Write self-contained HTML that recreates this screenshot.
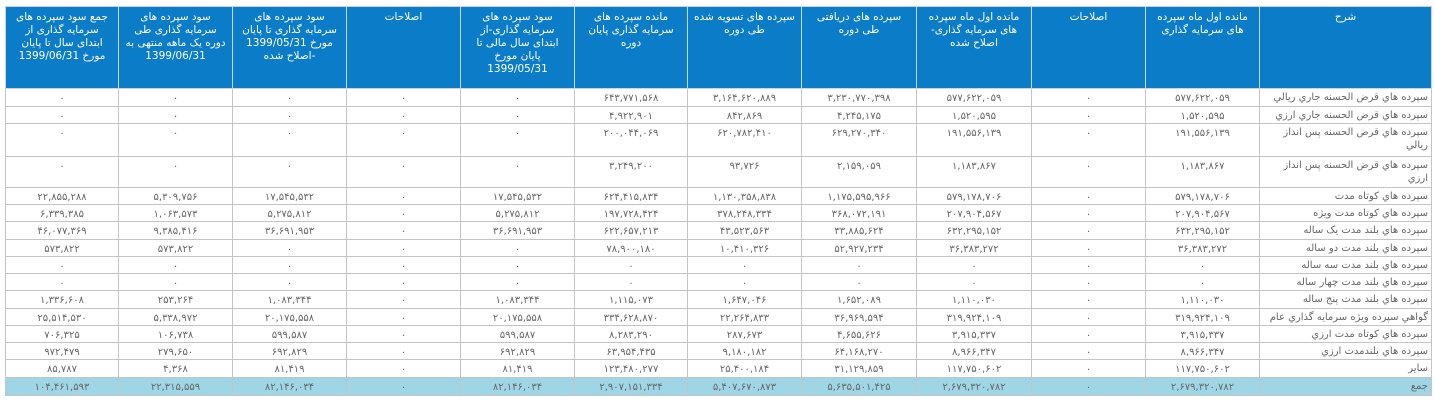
<!DOCTYPE html>
<html><head><meta charset="utf-8">
<style>
html,body{margin:0;padding:0;background:#fff;width:1434px;height:405px;overflow:hidden}
table{position:absolute;left:5px;top:6px;width:1425px;border-collapse:collapse;table-layout:fixed;direction:rtl;font-family:"DejaVu Sans","Liberation Sans",sans-serif;font-size:10px;color:#666}
th{background:#0b7dc8;color:#fff;font-weight:normal;vertical-align:top;text-align:center;border:1px solid #c9d6e0;padding:4px 6px 0;line-height:13px;height:77px;font-size:10.5px}
td{border:1px solid #c4c4c4;padding:0 3px;text-align:center;line-height:13px;white-space:nowrap}
td.d{text-align:right;white-space:normal;vertical-align:top;padding-top:2px}
td.n{vertical-align:top;padding-top:3px}
tr.tot td{background:#9fd6e6}
</style></head><body>
<table>
<colgroup><col style="width:172px"><col style="width:114px"><col style="width:114px"><col style="width:115px"><col style="width:115px"><col style="width:114px"><col style="width:113px"><col style="width:114px"><col style="width:114px"><col style="width:114px"><col style="width:114px"><col style="width:113px"></colgroup>
<thead><tr>
<th>شرح</th>
<th>مانده اول ماه سپرده های سرمایه گذاری</th>
<th>اصلاحات</th>
<th>مانده اول ماه سپرده های سرمایه گذاری-اصلاح شده</th>
<th>سپرده های دریافتی طی دوره</th>
<th>سپرده های تسویه شده طی دوره</th>
<th>مانده سپرده های سرمایه گذاری پایان دوره</th>
<th>سود سپرده های سرمایه گذاری-از ابتدای سال مالی تا پایان مورخ 1399/05/31</th>
<th>اصلاحات</th>
<th>سود سپرده های سرمایه گذاری تا پایان مورخ 1399/05/31 -اصلاح شده</th>
<th>سود سپرده های سرمایه گذاری طی دوره یک ماهه منتهی به 1399/06/31</th>
<th>جمع سود سپرده های سرمایه گذاری از ابتدای سال تا پایان مورخ 1399/06/31</th>
</tr></thead>
<tbody id="tb"></tbody>
</table>
<script>
const labels=["سپرده هاي قرض الحسنه جاري ريالي","سپرده هاي قرض الحسنه جاري ارزي","سپرده هاي قرض الحسنه پس انداز ريالي","سپرده هاي قرض الحسنه پس انداز ارزي","سپرده هاي كوتاه مدت","سپرده هاي كوتاه مدت ويژه","سپرده هاي بلند مدت يک ساله","سپرده هاي بلند مدت دو ساله","سپرده هاي بلند مدت سه ساله","سپرده هاي بلند مدت چهار ساله","سپرده هاي بلند مدت پنج ساله","گواهي سپرده ويژه سرمايه گذاري عام","سپرده هاي كوتاه مدت ارزي","سپرده هاي بلندمدت ارزي","ساير","جمع"];
const values=[
["577,622,059","0","577,622,059","3,230,770,398","3,164,620,889","643,771,568","0","0","0","0","0"],
["1,520,595","0","1,520,595","4,245,175","842,869","4,922,901","0","0","0","0","0"],
["191,556,139","0","191,556,139","629,270,340","620,782,410","200,044,069","0","0","0","0","0"],
["1,183,867","0","1,183,867","2,159,059","93,726","3,249,200","0","0","0","0","0"],
["579,178,706","0","579,178,706","1,175,595,966","1,130,358,838","624,415,834","17,545,532","0","17,545,532","5,309,756","22,855,288"],
["207,904,567","0","207,904,567","368,072,191","378,248,334","197,728,424","5,275,812","0","5,275,812","1,063,573","6,339,385"],
["632,295,152","0","632,295,152","33,885,624","43,523,563","622,657,213","36,691,953","0","36,691,953","9,385,416","46,077,369"],
["36,383,272","0","36,383,272","52,927,234","10,410,326","78,900,180","0","0","0","573,822","573,822"],
["0","0","0","0","0","0","0","0","0","0","0"],
["0","0","0","0","0","0","0","0","0","0","0"],
["1,110,030","0","1,110,030","1,652,089","1,647,046","1,115,073","1,083,344","0","1,083,344","253,264","1,336,608"],
["319,924,109","0","319,924,109","36,969,594","22,264,833","334,628,870","20,175,558","0","20,175,558","5,338,972","25,514,530"],
["3,915,337","0","3,915,337","4,655,626","287,673","8,283,290","599,587","0","599,587","106,738","706,325"],
["8,966,347","0","8,966,347","64,168,270","9,180,182","63,954,435","692,829","0","692,829","279,650","972,479"],
["117,750,602","0","117,750,602","31,129,859","25,400,184","123,480,277","81,419","0","81,419","4,368","85,787"],
["2,679,320,782","0","2,679,320,782","5,635,501,425","5,407,670,873","2,907,151,334","82,146,034","0","82,146,034","22,315,559","104,461,593"]];
const rowHeights=[18,17,33,31,17,17,18,17,17,17,18,17,17,17,18,18];
const fa=s=>s.replace(/\d/g,d=>"۰۱۲۳۴۵۶۷۸۹"[d]);
const tb=document.getElementById('tb');
labels.forEach((lab,i)=>{
  const tr=document.createElement('tr');
  
  
  if(i===labels.length-1) tr.className='tot';
  tr.style.height=rowHeights[i]+'px';
  const td=document.createElement('td');
  td.className='d';
  
  
  td.textContent=lab;
  tr.appendChild(td);
  values[i].forEach(v=>{
    const c=document.createElement('td');
    c.className='n';
    
    
    c.textContent=fa(v);
    tr.appendChild(c);
  });
  tb.appendChild(tr);
});
</script>
</body></html>
